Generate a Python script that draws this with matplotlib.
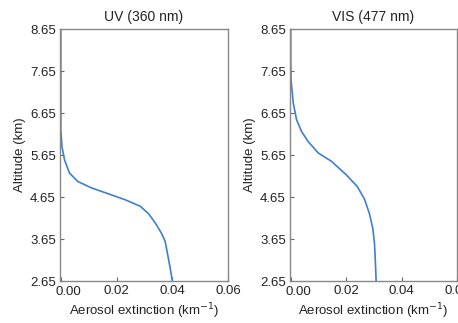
import matplotlib
matplotlib.use("Agg")
import matplotlib.pyplot as plt
import matplotlib.transforms as mtransforms

# profiles (extinction km^-1, altitude km)
uv_ext = [0.0, 0.0, 0.0004, 0.0013, 0.0031, 0.0061, 0.0109, 0.0169, 0.0229,
          0.0285, 0.0315, 0.0340, 0.0360, 0.0374, 0.0382, 0.0392, 0.0400]
uv_alt = [8.65, 6.25, 5.85, 5.54, 5.22, 5.02, 4.87, 4.73, 4.59,
          4.43, 4.25, 4.02, 3.80, 3.60, 3.32, 2.97, 2.65]

vis_ext = [0.0, 0.0, 0.0001, 0.0009, 0.0021, 0.0039, 0.0063, 0.0099, 0.0147,
           0.0200, 0.0240, 0.0266, 0.0284, 0.0296, 0.0302, 0.0305, 0.0308]
vis_alt = [8.65, 7.91, 7.44, 6.89, 6.49, 6.21, 5.97, 5.70, 5.50,
           5.18, 4.90, 4.60, 4.25, 3.90, 3.55, 3.15, 2.65]

titles = ["UV (360 nm)", "VIS (477 nm)"]
yticks = [2.65, 3.65, 4.65, 5.65, 6.65, 7.65, 8.65]
xticks = [0.0, 0.02, 0.04, 0.06]

plt.rcParams['font.family'] = ['Liberation Sans', 'DejaVu Sans']
plt.rcParams['font.size'] = 9.5

fig = plt.figure(figsize=(4.58, 3.23), dpi=100)
ax1 = fig.add_axes([0.131, 0.130, 0.367, 0.780])
ax2 = fig.add_axes([0.633, 0.130, 0.365, 0.780])

for ax, x, y, t in [(ax1, uv_ext, uv_alt, titles[0]), (ax2, vis_ext, vis_alt, titles[1])]:
    ax.plot(x, y, color='#3f7fd0', lw=1.2)
    ax.set_xlim(-0.0003, 0.06)
    ax.set_ylim(2.65, 8.65)
    ax.set_xticks(xticks)
    ax.set_xticklabels(["%.2f" % v for v in xticks])
    ax.set_yticks(yticks)
    ax.set_yticklabels(["%.2f" % v for v in yticks])
    ax.tick_params(direction='in', length=3, width=0.8, color='#666666',
                   labelcolor='#222222', labelsize=9.5, pad=3)
    # first x label sits a bit to the right, clear of the y labels
    lab = ax.get_xticklabels()[0]
    lab.set_transform(lab.get_transform() +
                      mtransforms.ScaledTranslation(0.08, -0.01, fig.dpi_scale_trans))
    for s in ax.spines.values():
        s.set_color('#888888')
        s.set_linewidth(1.0)
    ax.set_title(t, fontsize=10, color='#222222', pad=6)
    ax.set_xlabel('Aerosol extinction (km$^{-1}$)', fontsize=9.5, color='#222222', labelpad=2)
    ax.set_ylabel('Altitude (km)', fontsize=9.5, color='#222222', labelpad=3)

fig.savefig('out.png', dpi=100)
